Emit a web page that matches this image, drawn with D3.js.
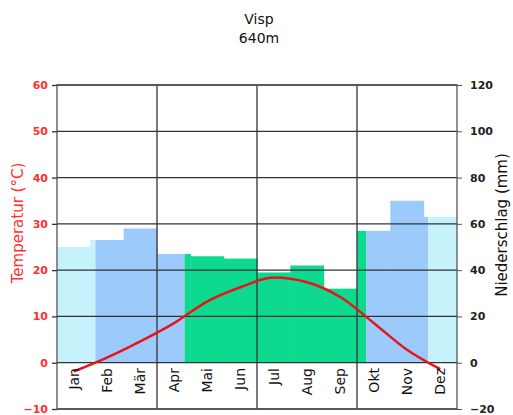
<html>
<head>
<script src="https://d3js.org/d3.v7.min.js"></script>
<style>
body { margin: 0; background: white; }
text { font-family: "DejaVu Sans", Verdana, sans-serif; }
</style>
</head>
<body>
<svg width=513 height=415></svg>
<script>
var months = ["Jan", "Feb", "Mär", "Apr", "Mai", "Jun", "Jul", "Aug", "Sep", "Okt", "Nov", "Dez"];
var temperature = [-1.9, 1.1, 4.6, 8.5, 13.2, 16.3, 18.4, 17.4, 14.2, 8.6, 2.8, -1.4];
var precipitation = [50, 53, 58, 47, 46, 45, 39, 42, 32, 57, 70, 63];
var tempTicks = [-10, 0, 10, 20, 30, 40, 50, 60];
var precTicks = [-20, 0, 20, 40, 60, 80, 100, 120];
var quarterStarts = ["Apr", "Jul", "Okt"];
var titleLines = ["Visp", "640m"];

// frost / cool / vegetation (>10°C) colours for the rain bars
var zoneColors = ["#c6f2fb", "#9ccafa", "#0dd98f"];
function zone(t) { return t < 0 ? 0 : (t < 10 ? 1 : 2); }

var plot = { left: 57, right: 457, top: 85, bottom: 409 };
var svg = d3.select("svg");

var x = d3.scaleBand().domain(months).range([plot.left, plot.right]).padding(0);
var yT = d3.scaleLinear().domain([-10, 60]).range([plot.bottom, plot.top]);
var yP = d3.scaleLinear().domain([-20, 120]).range([plot.bottom, plot.top]);

var defs = svg.append("defs");
var barsG = svg.append("g");
var gridG = svg.append("g");
var lineG = svg.append("g");

// temperature curve
var line = d3.line()
  .x(function(d, i) { return x(months[i]) + x.bandwidth() / 2; })
  .y(function(d) { return yT(d); })
  .curve(d3.curveMonotoneX);

var path = lineG.append("path")
  .datum(temperature)
  .attr("d", line)
  .attr("fill", "none")
  .attr("stroke", "#e8141b")
  .attr("stroke-width", 2.5);

// find where the curve crosses 0 and 10 degrees -> colour zones
var node = path.node(), L = node.getTotalLength();
var runs = [];
for (var s = 0; s <= L; s += 0.5) {
  var p = node.getPointAtLength(s);
  var c = zone(yT.invert(p.y));
  if (!runs.length || runs[runs.length - 1].c !== c) runs.push({ c: c, x0: p.x, x1: p.x });
  else runs[runs.length - 1].x1 = p.x;
}
runs.forEach(function(r, i) { if (i < runs.length - 1) r.x1 = runs[i + 1].x0; });
runs[0].x0 = plot.left;
runs[runs.length - 1].x1 = plot.right;

runs.forEach(function(r, i) {
  defs.append("clipPath").attr("id", "zone" + i)
    .append("rect")
    .attr("x", r.x0).attr("y", plot.top)
    .attr("width", r.x1 - r.x0).attr("height", plot.bottom - plot.top);

  barsG.append("g").attr("clip-path", "url(#zone" + i + ")")
    .selectAll("rect").data(precipitation).enter()
    .append("rect")
    .attr("x", function(d, j) { return x(months[j]); })
    .attr("y", function(d) { return yP(d); })
    .attr("width", x.bandwidth() + 0.5)
    .attr("height", function(d) { return yP(0) - yP(d); })
    .attr("fill", zoneColors[r.c]);
});

// grid
gridG.selectAll("line.h").data(tempTicks).enter()
  .append("line")
  .attr("x1", plot.left).attr("x2", plot.right)
  .attr("y1", function(d) { return yT(d); })
  .attr("y2", function(d) { return yT(d); })
  .attr("stroke", "#333").attr("stroke-width", 1.3);

gridG.selectAll("line.v").data(quarterStarts).enter()
  .append("line")
  .attr("x1", function(d) { return x(d); })
  .attr("x2", function(d) { return x(d); })
  .attr("y1", plot.top).attr("y2", plot.bottom)
  .attr("stroke", "#333").attr("stroke-width", 1.3);

gridG.append("rect")
  .attr("x", plot.left).attr("y", plot.top)
  .attr("width", plot.right - plot.left).attr("height", plot.bottom - plot.top)
  .attr("fill", "none").attr("stroke", "#555").attr("stroke-width", 1.3);

// axes
var leftAxis = svg.append("g")
  .attr("transform", "translate(" + plot.left + ",0)")
  .call(d3.axisLeft(yT).tickValues(tempTicks).tickSize(5).tickPadding(4));
leftAxis.select(".domain").remove();
leftAxis.selectAll("line").attr("stroke", "#333").attr("stroke-width", 1.3);
leftAxis.selectAll("text")
  .attr("fill", "#ff3030").style("font-size", "11px").style("font-weight", "bold");

var rightAxis = svg.append("g")
  .attr("transform", "translate(" + plot.right + ",0)")
  .call(d3.axisRight(yP).tickValues(precTicks).tickSize(5).tickPadding(8));
rightAxis.select(".domain").remove();
rightAxis.selectAll("line").attr("stroke", "#555").attr("stroke-width", 1);
rightAxis.selectAll("text")
  .attr("fill", "#222").style("font-size", "11px").style("font-weight", "bold");

// month labels
svg.selectAll("text.month").data(months).enter()
  .append("text")
  .attr("class", "month")
  .attr("transform", function(d) {
    return "translate(" + (x(d) + x.bandwidth() / 2 + 5) + "," + 368 + ") rotate(-90)";
  })
  .attr("text-anchor", "end")
  .style("font-size", "14px")
  .attr("fill", "#111")
  .text(function(d) { return d; });

// axis titles
svg.append("text")
  .attr("transform", "translate(23,223) rotate(-90)")
  .attr("text-anchor", "middle")
  .style("font-size", "15px")
  .attr("fill", "#ff3030")
  .text("Temperatur (°C)");

svg.append("text")
  .attr("transform", "translate(507,225) rotate(-90)")
  .attr("text-anchor", "middle")
  .style("font-size", "15px")
  .attr("fill", "#111")
  .text("Niederschlag (mm)");

// title
svg.selectAll("text.title").data(titleLines).enter()
  .append("text")
  .attr("class", "title")
  .attr("x", 259)
  .attr("y", function(d, i) { return 24 + i * 19; })
  .attr("text-anchor", "middle")
  .style("font-size", "14px")
  .attr("fill", "#111")
  .text(function(d) { return d; });
</script>
</body>
</html>
